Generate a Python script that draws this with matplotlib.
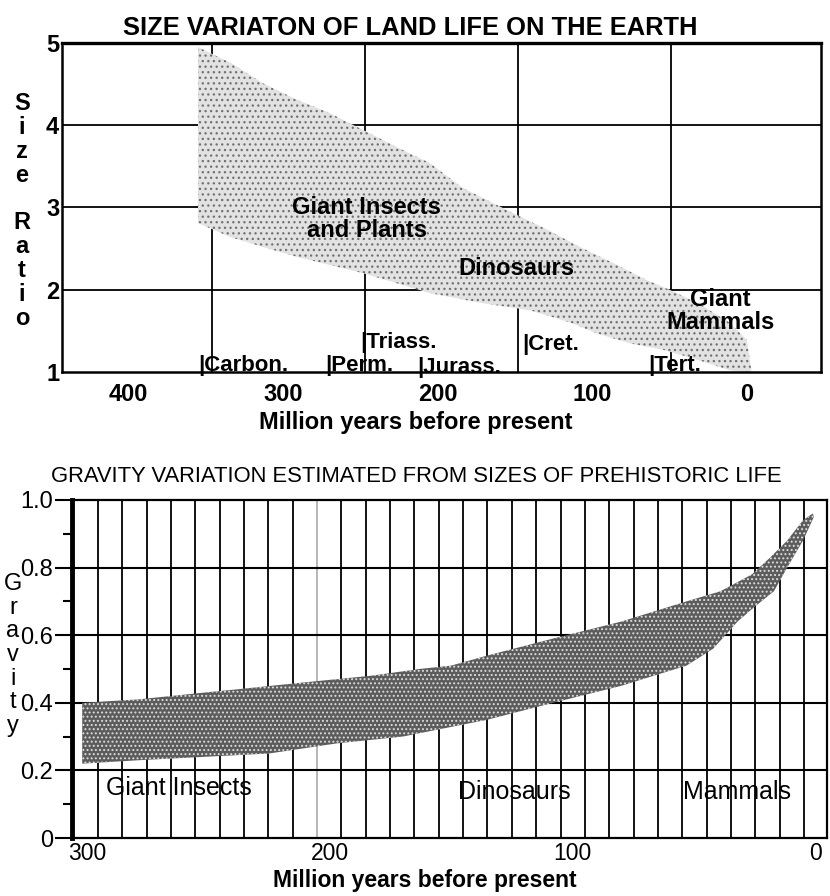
import matplotlib
matplotlib.use("Agg")
import matplotlib.pyplot as plt
import numpy as np

plt.rcParams['font.family'] = ['Liberation Sans', 'DejaVu Sans']
plt.rcParams['hatch.linewidth'] = 0.9

# ---- top chart: size ratio band, million years before present ----
size_top_x = [355, 334, 313, 291, 270, 248, 226, 205, 184, 151, 129, 108, 87, 65, 50, 32, 11, 0, -3]
size_top_y = [4.95, 4.76, 4.51, 4.31, 4.15, 3.94, 3.73, 3.54, 3.24, 2.93, 2.73, 2.52, 2.33, 2.12, 2.00, 1.84, 1.60, 1.39, 1.02]
size_bot_x = [355, 334, 313, 291, 248, 205, 172, 140, 114, 97, 76, 54, 32, 11, 0]
size_bot_y = [2.81, 2.64, 2.52, 2.40, 2.20, 1.96, 1.84, 1.75, 1.60, 1.47, 1.35, 1.27, 1.15, 1.02, 1.0]

period_names = ['|Carbon.', '|Perm.', '|Triass.', '|Jurass.', '|Cret.', '|Tert.']
period_start = [355, 273, 250, 213, 145, 64]
period_label_y = [1.08, 1.08, 1.36, 1.06, 1.33, 1.08]

size_grid_x = [346, 247, 148, 49]
size_ticks = [400, 300, 200, 100, 0]

size_groups = ['Giant Insects\nand Plants', 'Dinosaurs', 'Giant\nMammals']
size_group_x = [246, 149, 17]
size_group_y = [2.86, 2.26, 1.74]

# ---- bottom chart: gravity band ----
grav_top_x = [302, 279, 252, 238, 211, 183, 163, 150, 135, 108, 80, 53, 39, 26, 18.5, 11.5, 5, 1]
grav_top_y = [0.40, 0.41, 0.43, 0.44, 0.46, 0.48, 0.50, 0.51, 0.54, 0.59, 0.64, 0.70, 0.73, 0.78, 0.83, 0.88, 0.94, 0.96]
grav_bot_x = [302, 279, 252, 225, 197, 170, 163, 135, 108, 80, 53, 42, 32, 25.6, 17, 11.5, 5, 0.5]
grav_bot_y = [0.22, 0.23, 0.24, 0.25, 0.28, 0.30, 0.31, 0.35, 0.40, 0.45, 0.51, 0.56, 0.64, 0.68, 0.73, 0.80, 0.88, 0.95]

grav_ticks = [300, 200, 100, 0]
grav_yticks = [0, 0.2, 0.4, 0.6, 0.8, 1.0]
grav_ylabels = ['0', '0.2', '0.4', '0.6', '0.8', '1.0']

grav_groups = ['Giant Insects', 'Dinosaurs', 'Mammals']
grav_group_x = [262, 124, 32]
grav_group_y = [0.148, 0.136, 0.136]

fig = plt.figure(figsize=(8.3, 8.96), dpi=100)

# top panel
ax = fig.add_axes([62 / 830, 1 - 372 / 896, 759 / 830, 329 / 896])
ax.set_xlim(443, -48)
ax.set_ylim(1, 5)
for gx in size_grid_x:
    ax.axvline(gx, color='black', lw=1.3, zorder=1)
for gy in [2, 3, 4]:
    ax.axhline(gy, color='black', lw=1.3, zorder=1)

xs = np.concatenate([size_top_x, size_bot_x[::-1]])
ys = np.concatenate([size_top_y, size_bot_y[::-1]])
ax.fill(xs, ys, facecolor='#e2e2e2', edgecolor='#707070', hatch='...', linewidth=0, zorder=2)

for name, x0, y0 in zip(period_names, period_start, period_label_y):
    ax.text(x0, y0, name, ha='left', va='center', fontsize=16, fontweight='bold', zorder=3)
for name, x0, y0 in zip(size_groups, size_group_x, size_group_y):
    ax.text(x0, y0, name, ha='center', va='center', fontsize=17, fontweight='bold',
            linespacing=1.0, zorder=3)

ax.set_xticks(size_ticks)
ax.set_xticklabels([str(t) for t in size_ticks])
ax.set_yticks([1, 2, 3, 4, 5])
ax.tick_params(axis='both', length=0, labelsize=17)
ax.tick_params(axis='x', pad=8)
ax.tick_params(axis='y', pad=2)
for lab in ax.get_xticklabels() + ax.get_yticklabels():
    lab.set_fontweight('bold')
for side in ['top', 'bottom', 'left', 'right']:
    ax.spines[side].set_linewidth(1.8)
ax.spines['top'].set_linewidth(2.4)

fig.text(410 / 830, 1 - 28 / 896, 'SIZE VARIATON OF LAND LIFE ON THE EARTH',
         ha='center', va='center', fontsize=18.4, fontweight='bold')
fig.text(416 / 830, 1 - 422 / 896, 'Million years before present',
         ha='center', va='center', fontsize=17, fontweight='bold')
fig.text(22 / 830, 1 - 211 / 896, 'S\ni\nz\ne\n\nR\na\nt\ni\no',
         ha='center', va='center', fontsize=17, fontweight='bold', linespacing=1.05)

# bottom panel
bx = fig.add_axes([72 / 830, 1 - 838 / 896, 755 / 830, 338 / 896])
bx.set_xlim(306.2, -4.9)
bx.set_ylim(0, 1)
grid_x = np.linspace(295.5, 4.6, 30)
for i, gx in enumerate(grid_x):
    bx.axvline(gx, color='#b0b0b0' if i == 9 else 'black', lw=1.3, zorder=1)
for gy in [0.2, 0.4, 0.6, 0.8]:
    bx.axhline(gy, color='black', lw=1.5, zorder=1)

xs = np.concatenate([grav_top_x, grav_bot_x[::-1]])
ys = np.concatenate([grav_top_y, grav_bot_y[::-1]])
bx.fill(xs, ys, facecolor='#5c5c5c', edgecolor='#dcdcdc', hatch='....', linewidth=0, zorder=2)

for name, x0, y0 in zip(grav_groups, grav_group_x, grav_group_y):
    bx.text(x0, y0, name, ha='center', va='center', fontsize=18, zorder=3)

bx.set_xticks(grav_ticks)
bx.set_xticklabels([str(t) for t in grav_ticks])
bx.set_yticks(grav_yticks)
bx.set_yticklabels(grav_ylabels)
bx.set_yticks([0.1, 0.3, 0.5, 0.7, 0.9], minor=True)
bx.tick_params(axis='x', length=0, pad=3, labelsize=16.5)
bx.tick_params(axis='y', which='major', length=12, width=1.5, pad=1.5, labelsize=17)
bx.tick_params(axis='y', which='minor', length=6.5, width=1.5)
for side in ['top', 'bottom', 'right']:
    bx.spines[side].set_linewidth(1.6)
bx.spines['left'].set_linewidth(3.5)

fig.text(416 / 830, 1 - 476 / 896, 'GRAVITY VARIATION ESTIMATED FROM SIZES OF PREHISTORIC LIFE',
         ha='center', va='center', fontsize=15.8)
fig.text(425 / 830, 1 - 880 / 896, 'Million years before present',
         ha='center', va='center', fontsize=16.5, fontweight='bold')
fig.text(13 / 830, 1 - 655 / 896, 'G\nr\na\nv\ni\nt\ny',
         ha='center', va='center', fontsize=17, linespacing=1.1)

fig.savefig('out.png', dpi=100)
